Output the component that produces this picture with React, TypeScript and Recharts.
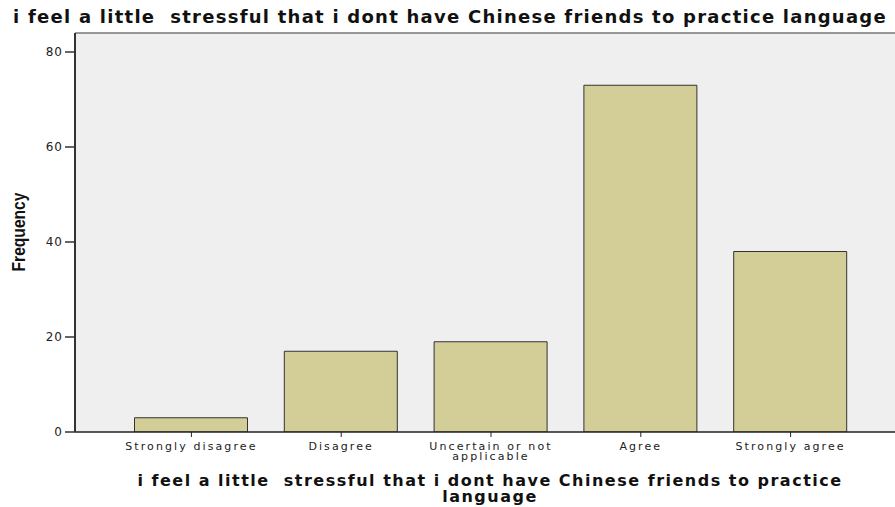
import { Bar, BarChart, CartesianGrid, ReferenceLine, XAxis, YAxis } from 'recharts';

const CATEGORIES = ['Strongly disagree', 'Disagree', 'Uncertain or not applicable', 'Agree', 'Strongly agree'];
const FREQUENCY = [3, 17, 19, 73, 38];
const Y_TICKS = [0, 20, 40, 60, 80];

const TITLE = 'i feel a little  stressful that i dont have Chinese friends to practice language';
const X_TITLE_1 = 'i feel a little  stressful that i dont have Chinese friends to practice';
const X_TITLE_2 = 'language';

const data = CATEGORIES.map((name, i) => ({ name, value: FREQUENCY[i] }));

const tickFont = { fontFamily: 'DejaVu Sans, sans-serif', fontSize: 11, fill: '#222' };

// SPSS wraps the long label onto two lines
const wrapLabel = (s: string) => (s === 'Uncertain or not applicable' ? ['Uncertain or not', 'applicable'] : [s]);

function XTick({ x, y, payload }: any) {
  const lines = wrapLabel(payload.value);
  return (
    <text x={x} y={y + 1} textAnchor="middle" {...tickFont} letterSpacing={2.1}>
      {lines.map((l, i) => (
        <tspan key={i} x={x} dy={i === 0 ? 10 : 10}>
          {l}
        </tspan>
      ))}
    </text>
  );
}

export default function App() {
  return (
    <div style={{ position: 'absolute', left: 0, top: 0, width: 895, height: 507, overflow: 'hidden', background: '#fff' }}>
      <BarChart width={910} height={507} data={data} margin={{ top: 33, left: 15, right: 3, bottom: 45 }}>
        <CartesianGrid fill="#efefef" horizontal={false} vertical={false} />
        <ReferenceLine y={84} stroke="#777" strokeWidth={1.5} />
        <XAxis
          dataKey="name"
          height={30}
          padding={{ left: 41.5, right: 41.5 }}
          axisLine={{ stroke: '#222', strokeWidth: 1.5 }}
          tickLine={{ stroke: '#222' }}
          tickSize={5}
          tick={<XTick />}
          interval={0}
        />
        <YAxis
          domain={[0, 84]}
          ticks={Y_TICKS}
          width={60}
          axisLine={{ stroke: '#333', strokeWidth: 2 }}
          tickLine={{ stroke: '#333', strokeWidth: 1.5 }}
          tickSize={10}
          tickMargin={2}
          tick={{ ...tickFont, fontSize: 12, letterSpacing: 1 }}
          allowDataOverflow
        />
        <Bar dataKey="value" fill="#d3ce97" stroke="#333" strokeWidth={1} barSize={113} isAnimationActive={false} />
      </BarChart>
      <div
        style={{
          position: 'absolute', left: 0, top: 7, width: 900, textAlign: 'center', whiteSpace: 'pre',
          fontFamily: 'DejaVu Sans, sans-serif', fontWeight: 'bold', fontSize: 18, lineHeight: '20px',
          letterSpacing: 1.25, color: '#111',
        }}
      >
        {TITLE}
      </div>
      <div
        style={{
          position: 'absolute', left: 90, top: 473, width: 800, textAlign: 'center', whiteSpace: 'pre',
          fontFamily: 'DejaVu Sans, sans-serif', fontWeight: 'bold', fontSize: 16, lineHeight: '16px',
          letterSpacing: 1.5, color: '#111',
        }}
      >
        <div>{X_TITLE_1}</div>
        <div>{X_TITLE_2}</div>
      </div>
      <div
        style={{
          position: 'absolute', left: 18, top: 232, transform: 'translate(-50%, -50%) rotate(-90deg) scale(0.82, 1)',
          whiteSpace: 'pre', fontFamily: 'Liberation Sans, sans-serif', fontWeight: 'bold', fontSize: 19,
          lineHeight: '19px', color: '#111',
        }}
      >
        Frequency
      </div>
    </div>
  );
}
